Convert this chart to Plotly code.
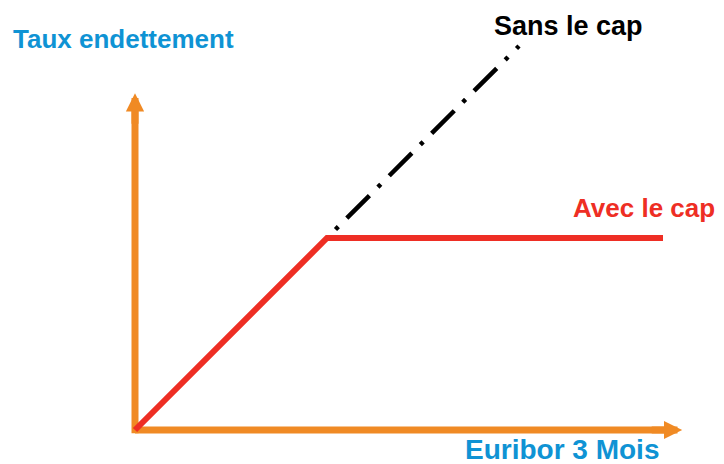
import plotly.graph_objects as go

# Data (units: Euribor 3 mois on x, taux d'endettement on y)
euribor_avec = [0, 3, 8.25]
taux_avec = [0, 3, 3]
euribor_sans = [3, 6]
taux_sans = [3, 6]
x_axis_end = 8.55
y_axis_end = 5.26

label_axe_y = "Taux endettement"
label_axe_x = "Euribor 3 Mois"
label_sans = "Sans le cap"
label_avec = "Avec le cap"

ORANGE = "#F08A24"
RED = "#EE2E24"
BLUE = "#0F93D4"
FONT = "Liberation Sans, Arial, sans-serif"

fig = go.Figure()

# axis shafts
fig.add_trace(go.Scatter(x=[0, x_axis_end - 0.25], y=[0, 0], mode="lines",
                         line=dict(color=ORANGE, width=7), hoverinfo="skip"))
fig.add_trace(go.Scatter(x=[0, 0], y=[-0.05, y_axis_end - 0.25], mode="lines",
                         line=dict(color=ORANGE, width=7), hoverinfo="skip"))

# sans le cap
fig.add_trace(go.Scatter(x=euribor_sans, y=taux_sans, mode="lines",
                         line=dict(color="black", width=4.5,
                                   dash="0px,12px,4px,12px,32px,0px"),
                         hoverinfo="skip"))
# avec le cap
fig.add_trace(go.Scatter(x=euribor_avec, y=taux_avec, mode="lines",
                         line=dict(color=RED, width=6), hoverinfo="skip"))

# arrow heads
fig.add_annotation(x=x_axis_end, y=0, ax=x_axis_end - 0.5, ay=0,
                   xref="x", yref="y", axref="x", ayref="y", text="",
                   showarrow=True, arrowhead=2, arrowwidth=7, arrowsize=0.52,
                   arrowcolor=ORANGE, standoff=0)
fig.add_annotation(x=0, y=y_axis_end, ax=0, ay=y_axis_end - 0.5,
                   xref="x", yref="y", axref="x", ayref="y", text="",
                   showarrow=True, arrowhead=2, arrowwidth=7, arrowsize=0.52,
                   arrowcolor=ORANGE, standoff=0)

def label(txt, x, y, color, size):
    fig.add_annotation(x=x, y=y, xref="x", yref="y", text="<b>%s</b>" % txt,
                       showarrow=False, xanchor="center", yanchor="middle",
                       font=dict(family=FONT, size=size, color=color))

label(label_axe_y, -0.18, 6.11, BLUE, 26)
label(label_sans, 6.78, 6.32, "black", 27)
label(label_avec, 7.96, 3.47, RED, 26)
label(label_axe_x, 6.67, -0.305, BLUE, 28)

# page body has an 8px margin: figure is 716x456 and ranges are shifted
fig.update_layout(
    width=716, height=456,
    margin=dict(l=0, r=0, t=0, b=0),
    paper_bgcolor="white", plot_bgcolor="white",
    showlegend=False,
    xaxis=dict(range=[-1.984375, 9.203125], visible=False, fixedrange=True),
    yaxis=dict(range=[-0.53125, 6.59375], visible=False, fixedrange=True),
)

fig.write_html("out.html", config={"displayModeBar": False})
